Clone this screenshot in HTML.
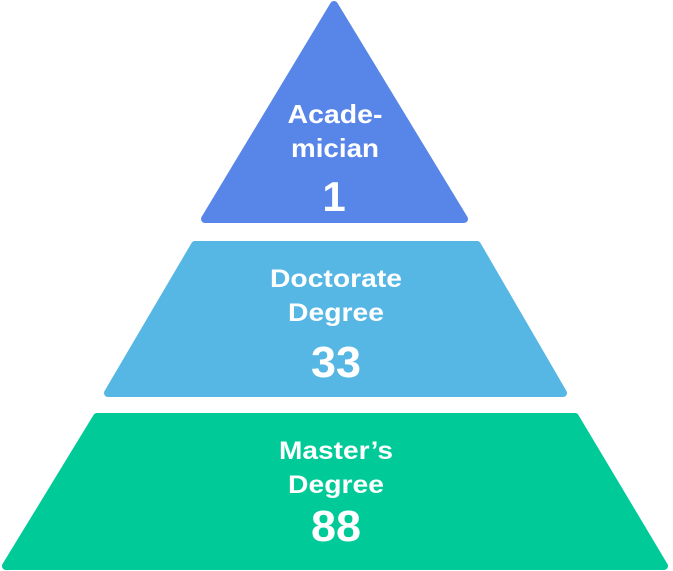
<!DOCTYPE html>
<html><head><meta charset="utf-8"><style>
html,body{margin:0;padding:0;background:#fff;width:673px;height:571px;overflow:hidden}
text{font-family:"Liberation Sans",sans-serif;font-weight:bold;fill:#fff;text-anchor:middle}
</style></head><body>
<svg width="673" height="571" viewBox="0 0 673 571">
<g stroke-linejoin="round" stroke-width="8">
<polygon points="334,5 464,219 205,219" fill="#5885E8" stroke="#5885E8"/>
<polygon points="195,245 477,245 563,393 108,393" fill="#56B7E4" stroke="#56B7E4"/>
<polygon points="97,417 575,417 664,566 6,566" fill="#00CA98" stroke="#00CA98"/>
</g>
<text x="335" y="123" font-size="26" textLength="95" lengthAdjust="spacingAndGlyphs">Acade-</text>
<text x="335" y="157" font-size="26" textLength="88" lengthAdjust="spacingAndGlyphs">mician</text>
<text x="334" y="211" font-size="42">1</text>
<text x="336" y="287" font-size="25" textLength="132" lengthAdjust="spacingAndGlyphs">Doctorate</text>
<text x="336" y="321" font-size="25" textLength="96" lengthAdjust="spacingAndGlyphs">Degree</text>
<text x="336" y="377" font-size="44" textLength="50" lengthAdjust="spacingAndGlyphs">33</text>
<text x="336" y="459" font-size="25" textLength="114" lengthAdjust="spacingAndGlyphs">Master’s</text>
<text x="336" y="493" font-size="25" textLength="96" lengthAdjust="spacingAndGlyphs">Degree</text>
<text x="336" y="541" font-size="44" textLength="50" lengthAdjust="spacingAndGlyphs">88</text>
</svg>
</body></html>
